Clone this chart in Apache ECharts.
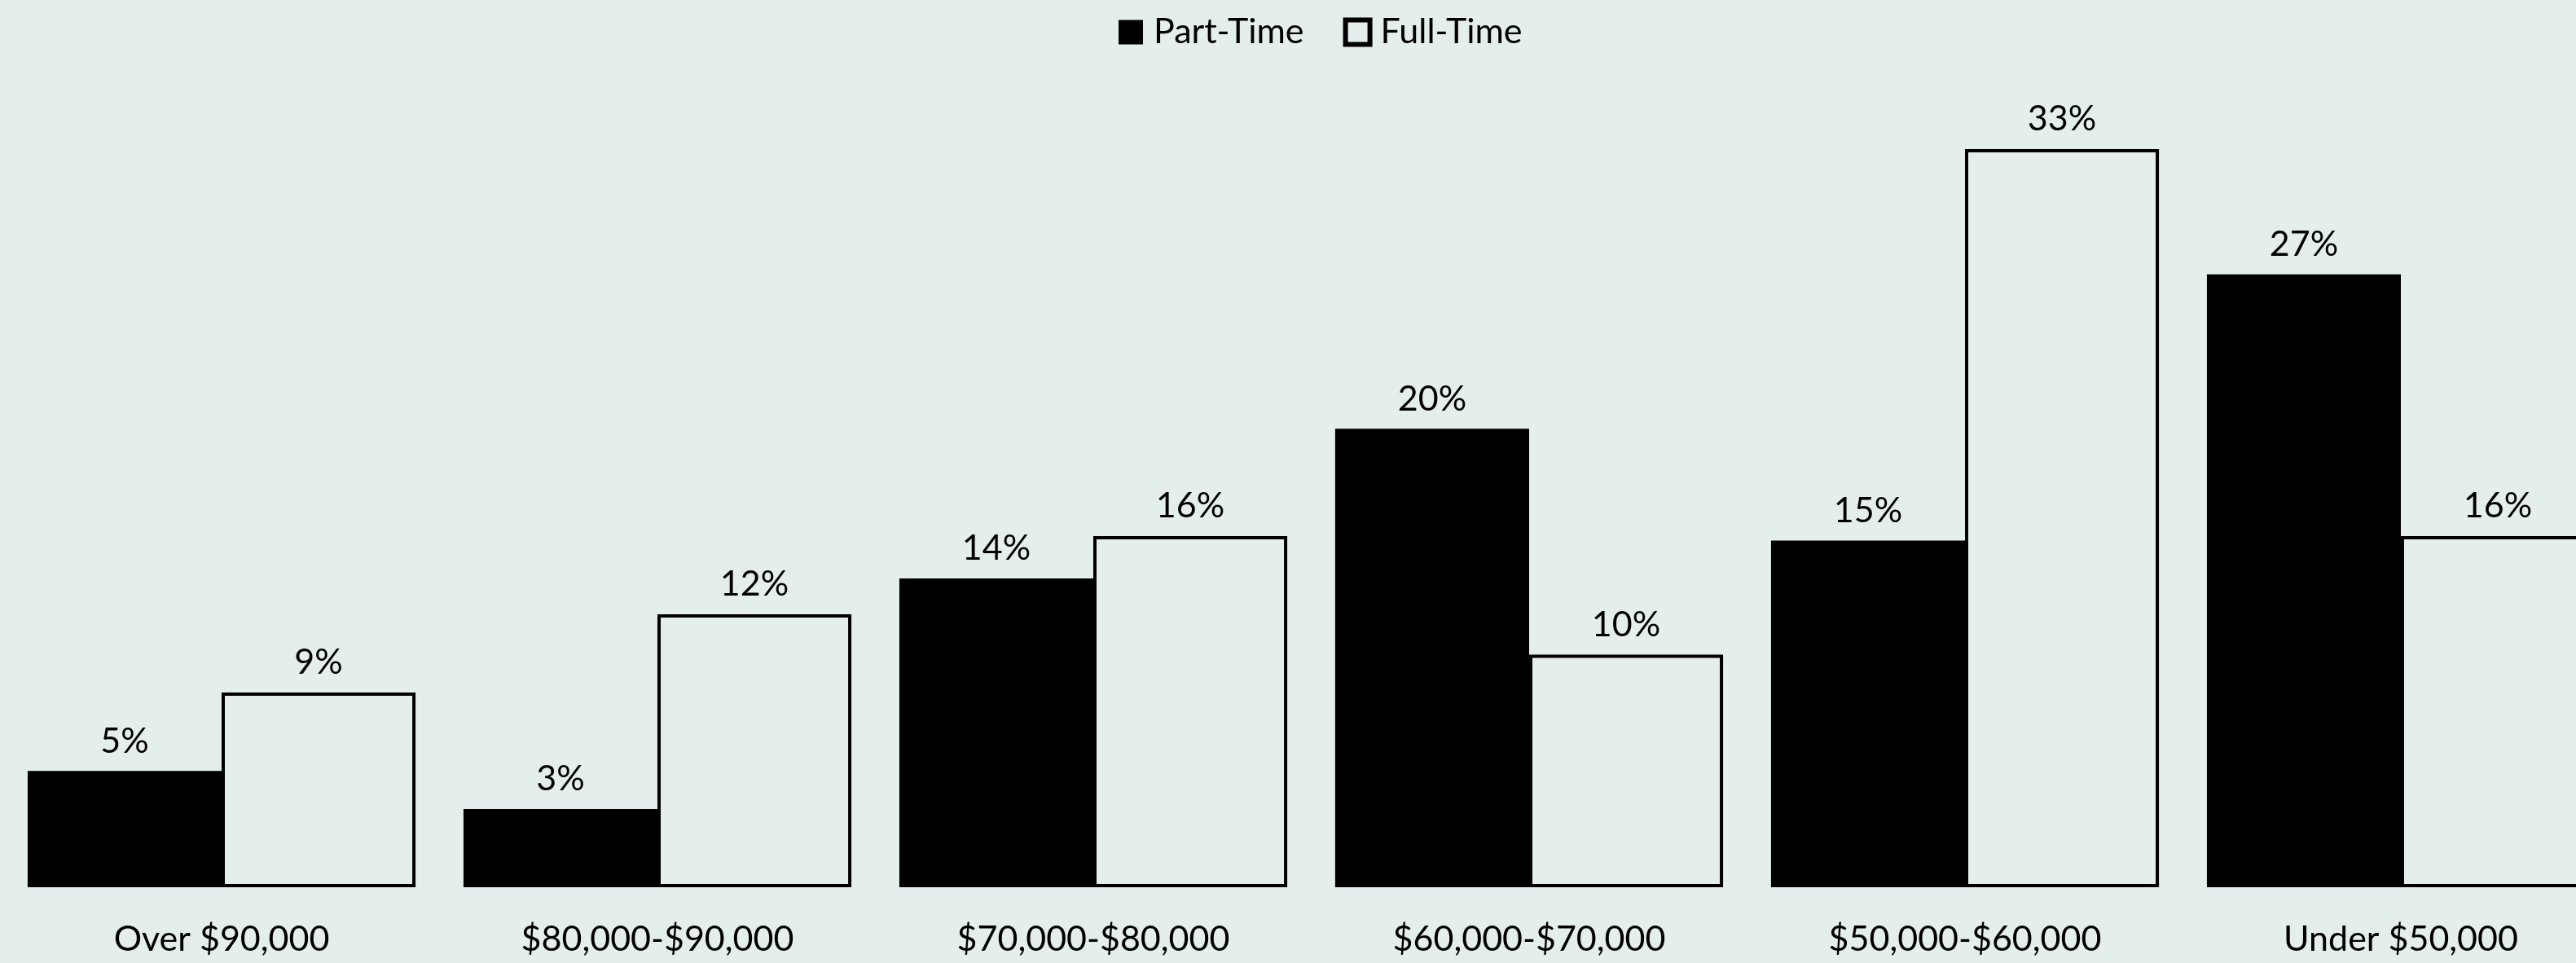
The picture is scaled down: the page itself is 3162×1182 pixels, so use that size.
<!DOCTYPE html>
<html>
<head>
<meta charset="utf-8">
<script src="https://cdn.jsdelivr.net/npm/echarts@6/dist/echarts.min.js"></script>
<style>
  html, body { margin: 0; padding: 0; background: #e4eeec; }
  #container { width: 3162px; height: 1182px; }
</style>
</head>
<body>
<div id="container"></div>
<script>
;(function() {

  // salary bands, left to right
  var categories = ['Over $90,000', '$80,000-$90,000', '$70,000-$80,000', '$60,000-$70,000', '$50,000-$60,000', 'Under $50,000']

  // bar heights (percent)
  var partTime = [5.2, 3.5, 13.8, 20.5, 15.5, 27.4]
  var fullTime = [8.7, 12.2, 15.7, 10.4, 33.0, 15.7]

  // labels as printed on top of the bars
  var partLabels = ['5%', '3%', '14%', '20%', '15%', '27%']
  var fullLabels = ['9%', '12%', '16%', '10%', '33%', '16%']

  var fontFamily = 'Lato'
  var dom = document.getElementById('container')
  var myChart = echarts.init(dom)

  var option = {
    backgroundColor: '#e4eeec',
    animation: false,
    textStyle: { fontFamily: fontFamily, color: '#000' },
    legend: {
      left: 1368,
      top: 13,
      itemWidth: 30,
      itemHeight: 30,
      itemGap: 48,
      icon: 'rect',
      textStyle: { fontSize: 43, color: '#000', fontFamily: fontFamily, padding: [0, 0, 0, 8] },
      data: [
        { name: 'Part-Time' },
        { name: 'Full-Time', itemStyle: { color: 'transparent', borderColor: '#000', borderWidth: 6 } }
      ]
    },
    grid: {
      left: 4.5,
      top: 128,
      bottom: 93,
      width: 3210,
      containLabel: false,
      outerBoundsMode: 'none'
    },
    xAxis: {
      type: 'category',
      data: categories,
      axisLine: { show: false },
      axisTick: { show: false },
      axisLabel: {
        margin: 43,
        fontSize: 43,
        color: '#000',
        fontFamily: fontFamily,
        interval: 0
      }
    },
    yAxis: {
      type: 'value',
      min: 0,
      max: 35,
      show: false,
      splitLine: { show: false }
    },
    series: [
      {
        name: 'Part-Time',
        type: 'bar',
        data: partTime,
        barGap: '0%',
        barCategoryGap: '11%',
        itemStyle: { color: '#000' },
        label: {
          show: true,
          position: 'top',
          distance: 15,
          fontSize: 43,
          color: '#000',
          fontFamily: fontFamily,
          formatter: function(p) { return partLabels[p.dataIndex] }
        }
      },
      {
        name: 'Full-Time',
        type: 'bar',
        data: fullTime,
        barGap: '0%',
        barCategoryGap: '11%',
        itemStyle: { color: 'transparent', borderColor: '#000', borderWidth: 4 },
        label: {
          show: true,
          position: 'top',
          distance: 15,
          fontSize: 43,
          color: '#000',
          fontFamily: fontFamily,
          formatter: function(p) { return fullLabels[p.dataIndex] }
        }
      }
    ]
  }

  myChart.setOption(option, true)
})()
</script>
</body>
</html>
